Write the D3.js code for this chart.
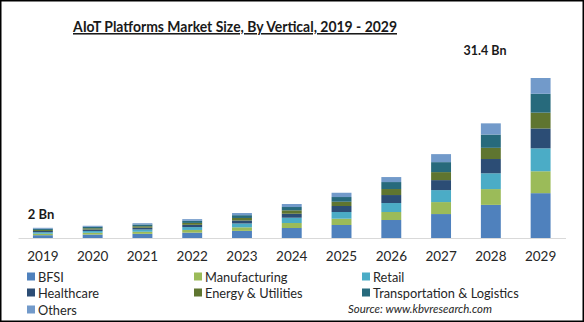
<!DOCTYPE html>
<html>
<head>
<meta charset="utf-8">
<script src="https://cdn.jsdelivr.net/npm/d3@7"></script>
<style>
  body { margin: 0; background: #fff; }
  svg { display: block; font-family: Lato, "Open Sans", sans-serif; }
</style>
</head>
<body>
<div id="chart"></div>
<script>
const years = ["2019", "2020", "2021", "2022", "2023", "2024", "2025", "2026", "2027", "2028", "2029"];
const verticals = ["BFSI", "Manufacturing", "Retail", "Healthcare", "Energy & Utilities", "Transportation & Logistics", "Others"];
const colors = ["#4f81bd", "#9bbb59", "#4bacc6", "#2c4d75", "#5f7530", "#276a7c", "#729aca"];

// market size in USD Bn, per vertical
const bfsi = [0.55, 0.68, 0.82, 1.05, 1.4, 1.96, 2.55, 3.53, 4.7, 6.5, 8.8];
const manufacturing = [0.28, 0.34, 0.41, 0.53, 0.7, 0.98, 1.24, 1.57, 2.35, 3.1, 4.3];
const retail = [0.3, 0.36, 0.44, 0.56, 0.75, 1.04, 1.31, 1.76, 2.35, 3.1, 4.5];
const healthcare = [0.25, 0.29, 0.35, 0.45, 0.59, 0.78, 1.18, 1.57, 1.96, 2.8, 3.9];
const energy = [0.2, 0.24, 0.29, 0.37, 0.49, 0.67, 0.84, 1.18, 1.57, 2.2, 3.1];
const transport = [0.24, 0.28, 0.34, 0.42, 0.55, 0.65, 0.92, 1.37, 1.96, 2.6, 3.7];
const others = [0.18, 0.21, 0.25, 0.32, 0.42, 0.59, 0.84, 0.98, 1.57, 2.2, 3.1];

const firstLabel = "2 Bn";
const lastLabel = "31.4 Bn";

const W = 584, H = 322;
const svg = d3.select("#chart").append("svg").attr("width", W).attr("height", H);

svg.append("rect")
  .attr("x", 0.75).attr("y", 0.75)
  .attr("width", W - 1.5).attr("height", H - 1.5)
  .attr("fill", "#fff").attr("stroke", "#000").attr("stroke-width", 1.5);

const seriesValues = [bfsi, manufacturing, retail, healthcare, energy, transport, others];
const rows = years.map((y, i) => {
  const r = { year: y };
  verticals.forEach((v, k) => (r[v] = seriesValues[k][i]));
  return r;
});
const stacked = d3.stack().keys(verticals)(rows);

const x = d3.scaleBand().domain(years).range([18, 565.5]).paddingInner(0.6).paddingOuter(0.3);
const y = d3.scaleLinear().domain([0, 31.4]).range([238, 78]);
const color = d3.scaleOrdinal().domain(verticals).range(colors);

// title
svg.append("text")
  .attr("x", 73).attr("y", 32)
  .attr("font-size", 15.5).attr("font-weight", "bold")
  .attr("fill", "#1a1a1a")
  .attr("text-decoration", "underline")
  .attr("textLength", 324).attr("lengthAdjust", "spacingAndGlyphs")
  .text("AIoT Platforms Market Size, By Vertical, 2019 - 2029");

svg.append("g")
  .selectAll("g")
  .data(stacked)
  .join("g")
  .attr("fill", (d) => color(d.key))
  .selectAll("rect")
  .data((d) => d)
  .join("rect")
  .attr("x", (d) => x(d.data.year))
  .attr("width", x.bandwidth())
  .attr("y", (d) => y(d[1]))
  .attr("height", (d) => y(d[0]) - y(d[1]));

const axis = svg.append("g")
  .attr("transform", "translate(0,238)")
  .call(d3.axisBottom(x).tickSize(0).tickPadding(13));
axis.select(".domain").attr("stroke", "#d9d9d9").attr("stroke-width", 1.2);
axis.selectAll("text")
  .attr("font-size", 13.5).attr("fill", "#262626")
  .attr("font-family", "Lato, sans-serif");

// value labels
const total = (i) => d3.sum(seriesValues, (s) => s[i]);
svg.append("text")
  .attr("x", 41).attr("y", y(total(0)) - 9)
  .attr("text-anchor", "middle")
  .attr("font-size", 13).attr("font-weight", "bold").attr("fill", "#1a1a1a")
  .text(firstLabel);
svg.append("text")
  .attr("x", 485).attr("y", 55)
  .attr("text-anchor", "middle")
  .attr("font-size", 12.5).attr("font-weight", "bold").attr("fill", "#1a1a1a")
  .text(lastLabel);

// legend
const colX = [27, 194, 362];
const rowY = [277, 293, 310];
const legend = svg.append("g")
  .selectAll("g")
  .data(verticals)
  .join("g")
  .attr("transform", (d, i) => `translate(${colX[i % 3]},${rowY[Math.floor(i / 3)]})`);
legend.append("rect")
  .attr("x", 0).attr("y", -4.5)
  .attr("width", 8).attr("height", 8)
  .attr("fill", (d) => color(d));
legend.append("text")
  .attr("x", 11).attr("y", 0)
  .attr("dy", "0.36em")
  .attr("font-size", 12.8).attr("fill", "#262626")
  .text((d) => d);

svg.append("text")
  .attr("x", 348).attr("y", 312.5)
  .attr("font-size", 11).attr("font-style", "italic").attr("fill", "#262626")
  .attr("textLength", 144).attr("lengthAdjust", "spacingAndGlyphs")
  .text("Source:  www.kbvresearch.com");
</script>
</body>
</html>
